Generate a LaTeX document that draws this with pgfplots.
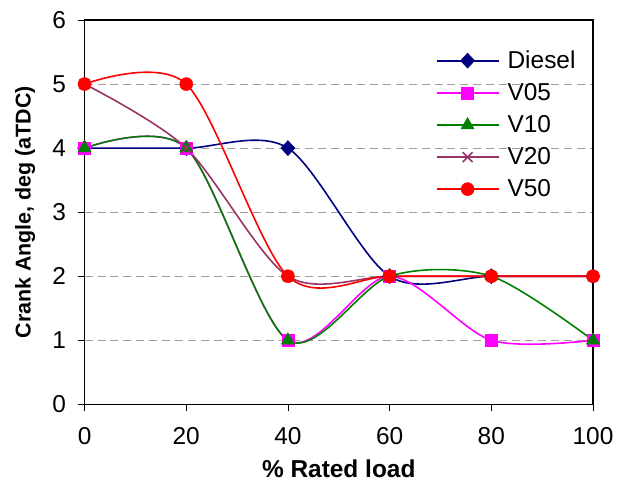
\documentclass[border=0pt]{standalone}
\usepackage{fontspec}
\setmainfont{Liberation Sans}
\usepackage{pgfplots}
\pgfplotsset{compat=1.18}
\definecolor{cDiesel}{HTML}{000080}
\definecolor{cV05}{HTML}{FF00FF}
\definecolor{cV10}{HTML}{008000}
\definecolor{cV20}{HTML}{993366}
\definecolor{cV50}{HTML}{FF0000}
\begin{document}
\begin{tikzpicture}
\begin{axis}[
  scale only axis,
  width=508bp, height=384bp,
  xmin=0, xmax=100, ymin=0, ymax=6,
  xtick={0,20,...,100}, ytick={0,1,...,6},
  tick align=outside, major tick length=7bp,
  tick pos=left,
  axis line style={line width=1.3pt},
  major tick style={line width=0.8pt, black},
  ymajorgrids, grid style={dashed, gray!75, line width=0.8pt, dash pattern=on 8pt off 5pt},
  /pgf/number format/assume math mode=true,
  ticklabel style={font=\fontsize{24.5}{27}\selectfont},
  xticklabel style={yshift=-13bp},
  yticklabel style={xshift=-8bp},
  xlabel={\textbf{\% Rated load}},
  ylabel={\textbf{Crank Angle, deg (aTDC)}},
  xlabel style={font=\fontsize{24.5}{27}\selectfont, at={(axis description cs:0.5,-0.167)}, anchor=center},
  ylabel style={font=\fontsize{21.5}{24}\selectfont, at={(axis description cs:-0.117,0.5)}, anchor=center},
  legend style={draw=none, fill=none, inner sep=0pt, at={(axis description cs:0.69,0.925)}, anchor=north west,
    font=\fontsize{24.5}{27}\selectfont, row sep=9.5bp,
    /tikz/every odd column/.append style={column sep=6bp}},
  legend cell align=left,
  legend image code/.code={\draw[line width=2pt, mark=none] (0bp,0bp) -- (62bp,0bp); \draw[only marks] plot coordinates {(31bp,0bp)};},
  every axis plot/.append style={line width=1.6pt, smooth, tension=0.5},
]
\addplot[color=cDiesel, mark=diamond*, mark size=7.5bp, mark options={solid, line width=0.5pt, xscale=1.25}] coordinates {(0,4)(20,4)(40,4)(60,2)(80,2)(100,2)};
\addlegendentry{Diesel}
\addplot[color=cV05, mark=square*, mark size=6bp, mark options={solid, line width=0.5pt}] coordinates {(0,4)(20,4)(40,1)(60,2)(80,1)(100,1)};
\addlegendentry{V05}
\addplot[color=cV10, mark=triangle*, mark size=7.5bp, mark options={solid, line width=0.5pt}] coordinates {(0,4)(20,4)(40,1)(60,2)(80,2)(100,1)};
\addlegendentry{V10}
\addplot[color=cV20, mark=x, mark size=7bp, mark options={solid, line width=1.6pt}] coordinates {(0,5)(20,4)(40,2)(60,2)(80,2)(100,2)};
\addlegendentry{V20}
\addplot[color=cV50, mark=*, mark size=6.5bp, mark options={solid, line width=0.5pt}] coordinates {(0,5)(20,5)(40,2)(60,2)(80,2)(100,2)};
\addlegendentry{V50}
\end{axis}
\path ([shift={(-84.5bp,-80bp)}]current axis.south west) rectangle ([shift={(38bp,20bp)}]current axis.north east);
\end{tikzpicture}
\end{document}
